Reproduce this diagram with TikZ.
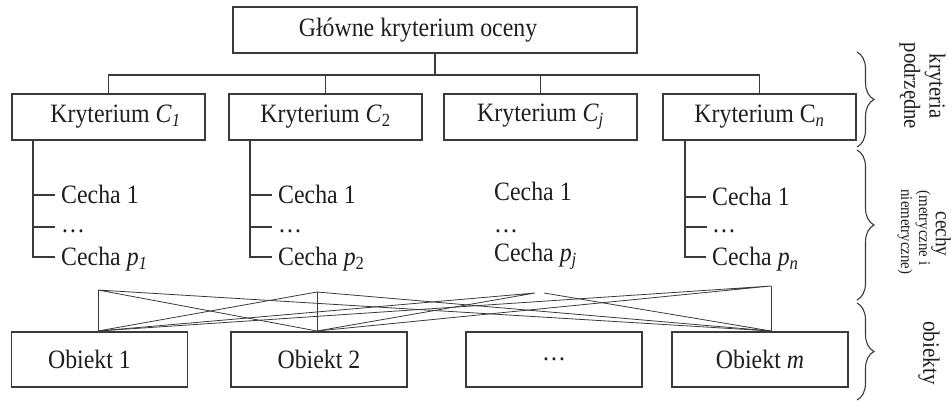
\documentclass[tikz,border=0pt]{standalone}
\usepackage{fontspec}
\setmainfont[FakeStretch=0.9]{Liberation Serif}
\usetikzlibrary{decorations.pathreplacing}
\definecolor{linec}{HTML}{3A3A3A}
\definecolor{textc}{HTML}{1E1E1E}
\tikzset{
  txt/.style={font=\fontsize{26.5}{30}\selectfont, text=textc},
  box/.style={txt, draw=linec, line width=1.3pt, inner sep=0pt},
  crit/.style={box, minimum width=193pt, minimum height=46pt},
  obj/.style={box, minimum width=176pt, minimum height=55pt},
  feat/.style={txt, inner sep=0pt, anchor=west, text height=17pt, text depth=0pt},
  conn/.style={draw=linec, line width=1.3pt},
  cross/.style={draw=linec, line width=0.8pt},
  brc/.style={draw=linec, line width=1.1pt, decorate, decoration={brace, amplitude=17pt}},
  side/.style={text=textc, rotate=-90, inner sep=0pt}
}
\begin{document}
\begin{tikzpicture}[x=1pt, y=-1pt]
\useasboundingbox (0,0) rectangle (952,401);
% top box
\node[box, minimum width=404pt, minimum height=46pt] (top) at (435,30) {Główne kryterium oceny\hspace*{34pt}};
% criteria
\node[crit] (c1) at (108.5,117) {\hspace*{14pt}Kryterium \textit{C}\textsubscript{\textit{1}}};
\node[crit] (c2) at (325.5,117) {Kryterium \textit{C}\textsubscript{2}};
\node[crit] (c3) at (540.5,117) {Kryterium \textit{C}\textsubscript{\textit{j}}};
\node[crit] (c4) at (759.5,117) {Kryterium C\textsubscript{\textit{n}}};
\coordinate (bus) at (0,75);
\draw[conn] (top.south) -- (top.south |- bus);
\draw[conn] (c1.north) -- (c1.north |- bus) -| (c4.north);
\draw[conn] (c2.north) -- (c2.north |- bus);
\draw[conn] (c3.north) -- (c3.north |- bus);
% features C1
\node[feat] (f11) at (61,195) {Cecha 1};
\node[feat] (f12) at (61,224) {…};
\node[feat] (f13) at (61,257) {Cecha \textit{p}\textsubscript{\textit{1}}};
\coordinate (v1) at (33,140);
\draw[conn] (v1) |- ([xshift=-6pt]f13.west);
\draw[conn] (v1 |- f11.west) -- ([xshift=-6pt]f11.west);
\draw[conn] (v1 |- f12.west) ++(0,3) -- ++(22,0);
% features C2
\node[feat] (f21) at (278,195) {Cecha 1};
\node[feat] (f22) at (278,224) {…};
\node[feat] (f23) at (278,257) {Cecha \textit{p}\textsubscript{2}};
\coordinate (v2) at (250,140);
\draw[conn] (v2) |- ([xshift=-6pt]f23.west);
\draw[conn] (v2 |- f21.west) -- ([xshift=-6pt]f21.west);
\draw[conn] (v2 |- f22.west) ++(0,3) -- ++(22,0);
% features Cj
\node[feat] (f31) at (494,192) {Cecha 1};
\node[feat] (f32) at (494,224) {…};
\node[feat] (f33) at (494,253) {Cecha \textit{p}\textsubscript{\textit{j}}};
% features Cn
\node[feat] (f41) at (712,197) {Cecha 1};
\node[feat] (f42) at (712,224) {…};
\node[feat] (f43) at (712,257) {Cecha \textit{p}\textsubscript{\textit{n}}};
\coordinate (v4) at (685,140);
\draw[conn] (v4) |- ([xshift=-6pt]f43.west);
\draw[conn] (v4 |- f41.west) -- ([xshift=-6pt]f41.west);
\draw[conn] (v4 |- f42.west) ++(0,3) -- ++(22,0);
% objects
\node[obj] (o1) at (99.5,359.5) {Obiekt 1\hspace*{20pt}};
\node[obj] (o2) at (319,359.5) {Obiekt 2};
\node[obj] (o3) at (554,359.5) {…};
\node[obj] (o4) at (760,359.5) {Obiekt \textit{m}};
% crossing
\coordinate (t1) at (98,290);
\coordinate (t2) at (317,292);
\coordinate (tm) at (771,286);
\coordinate (g) at (535,293);
\coordinate (gg) at (544,293);
\coordinate (b1) at (98,331);
\coordinate (b2) at (317,331);
\coordinate (bm) at (771,331);
\draw[cross] (t1) -- (b1) (t2) -- (b2) (tm) -- (bm);
\draw[cross] (t1) -- (b2) (t1) -- (bm);
\draw[cross] (t2) -- (b1) (t2) -- (bm);
\draw[cross] (tm) -- (b1) (tm) -- (b2);
\draw[cross] (b1) -- (g) (b2) -- (g) (gg) -- (bm);
% braces
\coordinate (k1) at (857,52);
\coordinate (k2) at (857,147);
\coordinate (k3) at (857,150);
\coordinate (k4) at (857,300);
\coordinate (k5) at (857,303);
\coordinate (k6) at (857,400);
\draw[brc] (k1) -- (k2);
\draw[brc] (k3) -- (k4);
\draw[brc] (k5) -- (k6);
% side labels
\node[side, font=\fontsize{23}{26}\selectfont] (l1a) at (935,86) {kryteria};
\node[side, font=\fontsize{23}{26}\selectfont] (l1b) at (910,86) {podrzędne};
\node[side, font=\fontsize{21.5}{22}\selectfont] (l2a) at (941,234) {cechy};
\node[side, font=\fontsize{16.5}{17}\selectfont] (l2b) at (923,228) {(metryczne i};
\node[side, font=\fontsize{16.5}{17}\selectfont] (l2c) at (905,232) {niemetryczne)};
\node[side, font=\fontsize{23.5}{26}\selectfont] (l3) at (929,353) {obiekty};
\end{tikzpicture}
\end{document}
